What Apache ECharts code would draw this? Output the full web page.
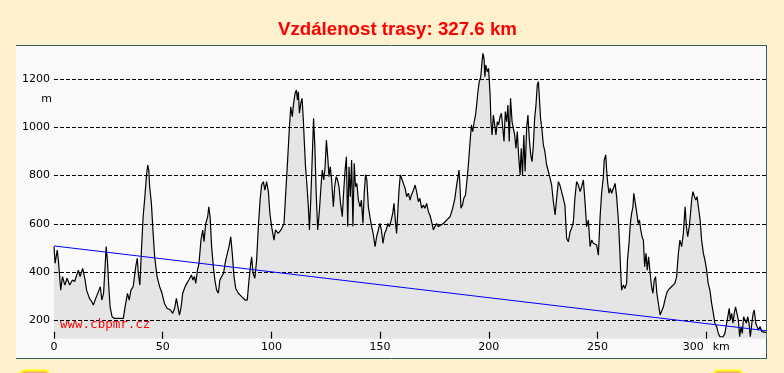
<!DOCTYPE html>
<html><head><meta charset="utf-8">
<script src="https://cdn.jsdelivr.net/npm/echarts@6/dist/echarts.min.js"></script>
<style>html,body{margin:0;padding:0;background:#FFF0CE;}#c{width:784px;height:373px;}</style>
</head><body><div id="c"></div>
<script>
const titleText = 'Vzdálenost trasy: 327.6 km';
const watermarkText = 'www.cbpmr.cz';
const xUnit = 'km';
const yUnit = 'm';
const xTickValues = [0, 50, 100, 150, 200, 250, 300];
const yTickValues = [200, 400, 600, 800, 1000, 1200];
const trendKm = [0, 327.6];
const trendElev = [509, 158];
const kmPoints = [
0,0.5,1.5,2,3.1,3.9,5,6,7.2,8.5,9.5,11.2,12,13.2,14.3,15,16.3,17.4,18.1,19.2,19.9,20.7,21.3,22,22.8,23.5,24,24.6,25.2,25.8,26.7,27.8,30,31.9,32.7,33.8,34.6,35.4,36.4,37.6,38.3,38.8,39.5,40.3,41,41.8,42.5,43.1,43.6,44,44.8,45.6,46.3,47.4,48.6,49.7,50.8,52,53.5,54.6,55.5,56.3,57,57.7,58.5,59.2,60.3,61.1,62,63.2,63.9,64.6,65.2,66,66.7,67.6,68.4,69,69.8,70.7,71.2,71.8,72.5,73.3,74,74.8,75.6,76.3,77.1,78,78.7,79.5,80.5,81.3,82,82.8,83.6,84.8,86.3,87.9,88.9,89.7,90.5,90.9,91.6,92.4,93.2,94,94.8,95.5,96.3,97,97.8,98.6,99.3,100.1,101.2,101.9,103.1,104.4,105.1,105.8,106.5,107.3,108.3,108.9,109.6,110.2,110.9,111.5,112,112.4,112.9,113.5,114.1,114.7,115.1,115.7,116.4,117,117.5,118.1,118.8,119.4,120,120.6,121.3,122,122.8,123.4,124.1,124.7,125.3,125.9,126.5,127.1,127.7,128.5,129.1,129.8,130.4,131.1,131.8,132.6,133.2,133.9,134.5,135.1,135.7,136.3,136.9,137.5,138.1,138.7,139.3,140,140.8,141.4,142.1,142.7,143.3,143.9,144.6,145.3,146.1,146.8,147.7,148.4,149.2,149.9,150.6,151.3,152.1,152.8,153.6,154.3,155.1,155.8,156.4,157,157.6,158.1,158.7,159.3,159.9,160.7,161.5,162.2,163,163.8,164.4,165.1,166.1,166.8,167.6,168.3,169.1,169.9,170.6,171.4,172.2,172.9,173.7,174.5,175.2,176,176.8,177.6,179.1,180.6,182.2,183.4,184.4,185.2,185.7,186.3,186.8,187.2,187.9,188.5,189.3,189.9,190.6,191.4,192,192.6,193.3,193.9,194.4,195,195.6,196.3,196.9,197.3,197.8,198.2,198.6,199.3,199.9,200.6,201,201.5,202.1,202.7,203.3,203.9,204.5,205.2,205.8,206.4,207,207.6,208.2,208.8,209.4,210,210.7,211.3,211.9,212.5,213.1,213.7,214.4,214.9,215.5,216.1,216.7,217.4,218,218.6,219.3,219.9,220.5,221.1,221.7,222.3,222.8,223.2,223.8,224.4,225.1,225.8,226.6,227.4,228.2,228.9,229.7,230.5,231.2,232,232.7,233.5,234.2,235,235.8,236.6,237.4,238.1,238.9,239.6,240.4,241.2,242,242.7,243.5,244.3,245,245.8,246.6,247.3,248.1,248.9,249.6,250.4,251.2,251.9,252.7,253.1,253.8,254.2,254.7,255.3,255.9,256.5,257.1,258.1,258.8,259.6,260.2,260.7,261.1,261.9,262.6,263.4,263.8,264.5,265.1,265.7,266.3,266.7,267.4,268.1,268.7,269.3,269.9,270.5,271.1,271.7,272.3,272.9,273.5,274.2,274.9,275.5,276.1,276.7,277.3,278,278.8,279.5,280.3,281,281.8,282.5,283.3,284,284.8,285.6,286.4,287.2,287.9,288.7,289.5,290.3,290.9,291.5,292.2,292.8,293.3,293.9,294.6,295.2,295.8,296.4,297.2,297.9,298.7,299.4,300.2,300.9,301.7,302.5,303.3,304,304.8,305.6,306.3,307,307.8,308.6,309.4,310.2,310.6,311.1,311.7,312.3,312.9,313.5,314.2,314.8,315.4,316,316.6,317.2,317.8,318.5,319.1,319.7,320.3,321,321.6,322.1,322.8,323.4,324,324.8,325.6,326.4,327.6
];
const elevations = [
506,437,492,451,326,382,347,375,347,368,362,409,382,416,368,326,292,278,264,292,285,326,340,285,313,423,506,444,340,257,216,209,209,209,257,313,285,326,340,423,458,396,347,506,630,713,796,844,823,754,685,561,464,382,340,313,271,251,244,230,251,292,257,223,257,313,340,354,368,389,368,382,354,409,437,533,575,527,602,630,671,630,506,423,368,326,313,368,382,396,437,470,506,547,478,382,333,313,299,285,285,368,437,464,396,375,451,589,699,761,775,740,775,734,644,589,533,575,561,575,568,602,713,837,1003,1085,1044,1099,1141,1154,1113,1147,1058,1099,1120,1030,947,837,754,671,575,699,878,1037,920,727,575,644,754,823,782,837,947,878,796,837,782,671,754,796,782,754,685,630,727,823,878,589,837,713,865,589,851,754,768,699,671,699,602,727,803,782,671,630,589,561,506,547,575,602,575,520,561,575,602,589,616,644,685,616,561,644,740,803,789,768,748,713,727,699,720,734,761,734,692,706,665,678,665,685,651,637,609,575,589,602,589,596,602,616,630,665,706,761,789,823,748,665,678,706,720,775,844,941,1010,982,1023,1051,1092,1147,1189,1209,1272,1306,1285,1209,1258,1230,1244,1134,1023,968,1051,1010,968,1023,1010,1044,1058,1065,941,1065,1023,1092,941,1120,1023,996,968,913,982,885,803,913,803,968,817,996,1051,955,885,858,927,1037,1092,1175,1189,1134,1037,996,927,899,844,817,789,761,692,637,706,775,761,734,734,678,540,526,568,582,609,706,775,761,734,754,782,685,589,616,506,533,520,527,513,471,630,727,796,865,886,823,768,727,748,727,734,768,713,616,506,396,326,347,333,354,451,520,602,644,671,727,685,644,602,616,575,547,533,423,478,409,464,396,340,313,368,382,313,271,223,216,257,285,313,326,333,340,347,354,382,478,533,506,561,671,589,547,589,644,699,734,713,699,713,671,616,533,478,451,409,354,326,271,230,189,175,147,133,133,133,147,189,230,251,202,230,189,230,257,264,202,133,175,147,216,216,189,216,189,133,189,230,244,189,175,161,175,154,161,150
];

const profile = kmPoints.map((k, i) => [k, elevations[i]]);
const trend = trendKm.map((k, i) => [k, trendElev[i]]);
const lastTick = xTickValues[xTickValues.length - 1];
const yMin = 125, yMax = 1320;

const chart = echarts.init(document.getElementById('c'), null, {renderer: 'canvas'});
chart.setOption({
  animation: false,
  backgroundColor: '#FFF0CE',
  title: {
    text: titleText, left: 278, top: 20, padding: 0,
    textStyle: {color: '#FF0000', fontSize: 18.7, fontWeight: 'bold', fontFamily: 'Liberation Sans', lineHeight: 19}
  },
  grid: {left: 54, right: 17.8, top: 50, bottom: 34.3},
  xAxis: {
    type: 'value', min: 0, max: 327.6, z: 20,
    axisLine: {show: false}, splitLine: {show: false},
    axisTick: {show: true, inside: true, length: 7, customValues: xTickValues, lineStyle: {color: '#000', width: 1.2}},
    axisLabel: {
      customValues: xTickValues,
      formatter: v => v === lastTick ? v + '\u2002 ' + xUnit : String(v),
      fontFamily: 'DejaVu Sans', fontSize: 11, color: '#000', margin: 3
    }
  },
  yAxis: {
    type: 'value', min: yMin, max: yMax, z: 20,
    axisLine: {show: false}, axisTick: {show: false}, splitLine: {show: false},
    axisLabel: {customValues: yTickValues, formatter: v => String(v), fontFamily: 'DejaVu Sans', fontSize: 11, color: '#000', margin: 4}
  },
  graphic: [
    {type: 'rect', z: -10, silent: true, shape: {x: 16, y: 45, width: 751, height: 313}, style: {fill: '#FAFAFA'}},
    {type: 'line', z: -9, silent: true, shape: {x1: 16, y1: 45.5, x2: 767, y2: 45.5}, style: {stroke: '#2F5F5F', lineWidth: 1}},
    {type: 'line', z: -9, silent: true, shape: {x1: 16, y1: 358.5, x2: 767, y2: 358.5}, style: {stroke: '#2F5F5F', lineWidth: 1}},
    {type: 'line', z: -9, silent: true, shape: {x1: 766.5, y1: 45, x2: 766.5, y2: 359}, style: {stroke: '#2F5F5F', lineWidth: 1}},
    {type: 'text', z: 50, silent: true, x: 46.5, y: 99, style: {text: yUnit, font: '11px "DejaVu Sans"', fill: '#000', align: 'center', verticalAlign: 'middle'}},
    {type: 'text', z: 50, silent: true, x: 60, y: 325, style: {text: watermarkText, font: '12.5px "DejaVu Sans Mono"', fill: '#FF0000', verticalAlign: 'middle'}},
    {type: 'rect', z: 50, silent: true, shape: {x: 21, y: 370.5, width: 28, height: 14, r: 4}, style: {fill: '#F2A58A', stroke: '#FFFF00', lineWidth: 2}},
    {type: 'rect', z: 50, silent: true, shape: {x: 714, y: 370.5, width: 28, height: 14, r: 4}, style: {fill: '#F2A58A', stroke: '#FFFF00', lineWidth: 2}}
  ],
  series: [
    {
      type: 'line', data: profile, symbol: 'none', silent: true, z: 1,
      lineStyle: {width: 0, opacity: 0},
      areaStyle: {color: '#E5E5E5', opacity: 1, origin: 'start'},
      markLine: {
        silent: true, symbol: ['none', 'none'], animation: false,
        label: {show: false},
        lineStyle: {color: '#000', type: [4, 2], width: 1},
        data: yTickValues.map(v => ({yAxis: v}))
      }
    },
    {
      type: 'line', data: profile, symbol: 'none', silent: true, z: 10,
      lineStyle: {color: '#000', width: 1.2}
    },
    {
      type: 'line', data: trend, symbol: 'none', silent: true, z: 11,
      lineStyle: {color: '#0000FF', width: 1}
    }
  ]
});
</script>
</body></html>
